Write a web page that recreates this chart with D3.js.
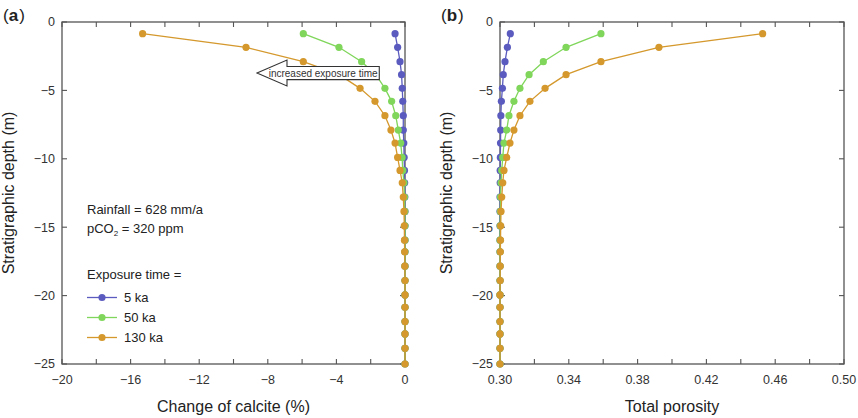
<!DOCTYPE html>
<html><head><meta charset="utf-8">
<script src="https://cdn.jsdelivr.net/npm/d3@7"></script>
<style>
html,body{margin:0;padding:0;background:#fff;}
svg{display:block;font-family:"Liberation Sans",Arial,sans-serif;}
</style></head>
<body>
<svg id="chart" width="858" height="418"></svg>
<script>
// ---------- data ----------
const depths = [-0.85,-1.85,-2.9,-3.85,-4.85,-5.8,-6.85,-7.9,-8.85,-9.9,-10.85,-11.75,-12.8,-13.85,-14.9,-15.95,-16.8,-17.85,-18.9,-19.95,-20.85,-21.9,-22.8,-23.85,-25];
const seriesNames = ["5 ka","50 ka","130 ka"];
const seriesColors = ["#5b5bbf","#7fd65a","#d4982c"];
// Change of calcite (%)
const calcite5 = [-0.58,-0.43,-0.29,-0.2,-0.16,-0.13,-0.1,-0.1,-0.07,-0.05,-0.03,-0.02,-0.01,0,0,0,0,0,0,0,0,0,0,0,0];
const calcite50 = [-5.93,-3.85,-2.53,-1.7,-1.17,-0.78,-0.54,-0.39,-0.25,-0.17,-0.13,-0.06,-0.03,-0.01,0,0,0,0,0,0,0,0,0,0,0];
const calcite130 = [-15.3,-9.27,-5.93,-3.84,-2.62,-1.75,-1.17,-0.82,-0.58,-0.43,-0.29,-0.16,-0.1,-0.06,-0.04,-0.03,-0.02,-0.01,0,0,0,0,0,0,0];
// Total porosity
const poro5 = [0.306,0.3043,0.3029,0.3019,0.3014,0.3008,0.3005,0.3004,0.3003,0.3002,0.3001,0.3001,0.3,0.3,0.3,0.3,0.3,0.3,0.3,0.3,0.3,0.3,0.3,0.3,0.3];
const poro50 = [0.3587,0.3384,0.3252,0.3169,0.3116,0.3081,0.3052,0.3039,0.3023,0.3016,0.301,0.3006,0.3003,0.3002,0.3001,0.3,0.3,0.3,0.3,0.3,0.3,0.3,0.3,0.3,0.3];
const poro130 = [0.4527,0.3924,0.3587,0.3384,0.3262,0.3174,0.3116,0.3081,0.3058,0.3039,0.3023,0.3016,0.301,0.3006,0.3004,0.3003,0.3002,0.3001,0.3001,0.3,0.3,0.3,0.3,0.3,0.3];
// axes
const depthTicks = [0,-5,-10,-15,-20,-25];
const calciteTicks = [-20,-18,-16,-14,-12,-10,-8,-6,-4,-2,0];
const calciteLabels = [-20,-16,-12,-8,-4,0];
const poroTicks = [0.30,0.32,0.34,0.36,0.38,0.40,0.42,0.44,0.46,0.48,0.50];
const poroLabels = [0.30,0.34,0.38,0.42,0.46,0.50];
const legendLines = ["Rainfall = 628 mm/a","pCO|2| = 320 ppm","Exposure time ="];
const arrowText = "increased exposure time";

// ---------- drawing ----------
const svg = d3.select("#chart");
const yTop = 22, yBottom = 364;
const axisColor = "#555", textColor = "#333";

function panel(opts){
  const g = svg.append("g");
  const x = d3.scaleLinear().domain(opts.xDomain).range([opts.x0, opts.x1]);
  const y = d3.scaleLinear().domain([0,-25]).range([yTop, yBottom]);
  const tl = 5;
  // series first (frame drawn over)
  const line = d3.line().x(d=>x(d[0])).y(d=>y(d[1]));
  const sg = g.append("g");
  // frame
  g.append("rect").attr("x",opts.x0).attr("y",yTop).attr("width",opts.x1-opts.x0).attr("height",yBottom-yTop)
    .attr("fill","none").attr("stroke",axisColor).attr("stroke-width",1.3);
  opts.xTicks.forEach(t=>{
    const px = x(t);
    g.append("line").attr("x1",px).attr("x2",px).attr("y1",yBottom).attr("y2",yBottom-tl).attr("stroke",axisColor).attr("stroke-width",1.1);
    g.append("line").attr("x1",px).attr("x2",px).attr("y1",yTop).attr("y2",yTop+tl).attr("stroke",axisColor).attr("stroke-width",1.1);
  });
  opts.xLabels.forEach(t=>{
    g.append("text").attr("x",x(t)).attr("y",yBottom+20).attr("text-anchor","middle")
      .attr("font-size",12.5).attr("fill",textColor).text(opts.fmt(t));
  });
  depthTicks.forEach(t=>{
    const py = y(t);
    g.append("line").attr("x1",opts.x0).attr("x2",opts.x0+tl).attr("y1",py).attr("y2",py).attr("stroke",axisColor).attr("stroke-width",1.1);
    g.append("line").attr("x1",opts.x1).attr("x2",opts.x1-tl).attr("y1",py).attr("y2",py).attr("stroke",axisColor).attr("stroke-width",1.1);
    g.append("text").attr("x",opts.x0-7).attr("y",py).attr("dy","0.35em").attr("text-anchor","end")
      .attr("font-size",12.5).attr("fill",textColor).text(d3.format("d")(t));
  });
  g.append("text").attr("x",(opts.x0+opts.x1)/2).attr("y",412).attr("text-anchor","middle")
    .attr("font-size",16).attr("fill","#222").text(opts.xTitle);
  g.append("text").attr("transform",`translate(${opts.x0-48},${(yTop+yBottom)/2}) rotate(-90)`)
    .attr("text-anchor","middle").attr("font-size",16).attr("fill","#222").text("Stratigraphic depth (m)");
  const lab = g.append("text").attr("x",opts.x0-59).attr("y",21).attr("font-size",17).attr("fill","#222");
  lab.append("tspan").text("(");
  lab.append("tspan").attr("font-weight","bold").text(opts.label);
  lab.append("tspan").attr("dx",1).text(")");
  opts.series.forEach((vals,i)=>{
    const pts = vals.map((v,j)=>[v,depths[j]]);
    const s = g.append("g");
    s.append("path").attr("d",line(pts)).attr("fill","none").attr("stroke",seriesColors[i]).attr("stroke-width",1.3);
    s.selectAll(null).data(pts).enter().append("circle")
      .attr("cx",d=>x(d[0])).attr("cy",d=>y(d[1])).attr("r",3.6).attr("fill",seriesColors[i]);
  });
  return {g,x,y};
}

const A = panel({x0:62,x1:405,xDomain:[-20,0],xTicks:calciteTicks,xLabels:calciteLabels,
  fmt:d3.format("d"),xTitle:"Change of calcite (%)",label:"a",series:[calcite5,calcite50,calcite130]});
const B = panel({x0:500,x1:844,xDomain:[0.30,0.50],xTicks:poroTicks,xLabels:poroLabels,
  fmt:d3.format(".2f"),xTitle:"Total porosity",label:"b",series:[poro5,poro50,poro130]});

// arrow annotation in panel a (anchored in data units)
{
  const tipX = A.x(-8.63), tipY = A.y(-3.73), endX = A.x(-1.5);
  const headLen = 30, headH = 13, shaftH = 6.6;
  const p = d3.path();
  p.moveTo(tipX,tipY);
  p.lineTo(tipX+headLen,tipY-headH);
  p.lineTo(tipX+headLen,tipY-shaftH);
  p.lineTo(endX,tipY-shaftH);
  p.lineTo(endX,tipY+shaftH);
  p.lineTo(tipX+headLen,tipY+shaftH);
  p.lineTo(tipX+headLen,tipY+headH);
  p.closePath();
  A.g.append("path").attr("d",p.toString()).attr("fill","#fff").attr("stroke","#333").attr("stroke-width",1.1);
  A.g.append("text").attr("x",(tipX+10+endX)/2).attr("y",tipY).attr("dy","0.35em").attr("text-anchor","middle")
    .attr("font-size",10).attr("fill","#333").text(arrowText);
}

// legend in panel a
{
  const lx = 87, fs = 13;
  const ys = [214, 233, 279];
  legendLines.forEach((t,i)=>{
    const txt = A.g.append("text").attr("x",lx).attr("y",ys[i]).attr("font-size",fs).attr("fill","#222");
    const parts = t.split("|");
    parts.forEach((s,k)=>{
      const ts = txt.append("tspan").text(s);
      if(k===1){ ts.attr("font-size",8).attr("dy",3); }
      if(k===2){ ts.attr("dy",-3); }
    });
  });
  const ly = [297.5,317.5,337.5];
  seriesNames.forEach((n,i)=>{
    A.g.append("line").attr("x1",lx).attr("x2",lx+30).attr("y1",ly[i]).attr("y2",ly[i]).attr("stroke",seriesColors[i]).attr("stroke-width",1.3);
    A.g.append("circle").attr("cx",lx+15).attr("cy",ly[i]).attr("r",3.6).attr("fill",seriesColors[i]);
    A.g.append("text").attr("x",lx+37).attr("y",ly[i]).attr("dy","0.36em").attr("font-size",fs).attr("fill","#222").text(n);
  });
}
</script>
</body></html>
